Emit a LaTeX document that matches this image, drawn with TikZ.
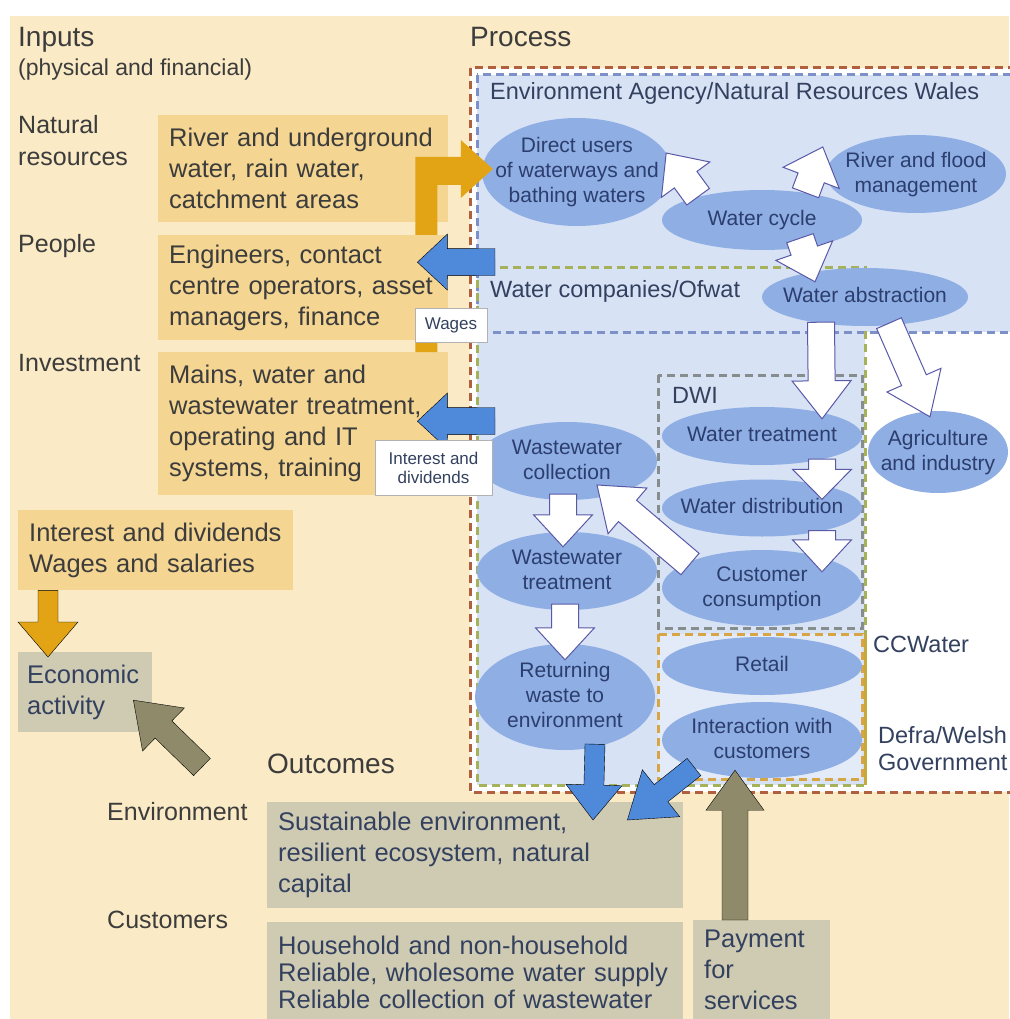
\documentclass[tikz,border=0pt]{standalone}
\usepackage{fontspec}
\setmainfont{Liberation Sans}
\usepackage{tikz}
\usetikzlibrary{positioning,shapes,calc}

\definecolor{cream}{HTML}{FAEAC5}
\definecolor{tanbox}{HTML}{F4D591}
\definecolor{goldarr}{HTML}{E2A414}
\definecolor{bluearr}{HTML}{4E89DA}
\definecolor{paleblue}{HTML}{D7E2F5}
\definecolor{ellfill}{HTML}{8FAEE4}
\definecolor{greybox}{HTML}{CFCAB2}
\definecolor{olivearr}{HTML}{8F8B6A}
\definecolor{txtgrey}{HTML}{3C3C3C}
\definecolor{txtslate}{HTML}{33415F}
\definecolor{txtnavy}{HTML}{2B3E6E}
\definecolor{reddash}{HTML}{B0603F}
\definecolor{bluedash}{HTML}{7D91C8}
\definecolor{greendash}{HTML}{A5B25A}
\definecolor{greydash}{HTML}{878C8C}
\definecolor{orangedash}{HTML}{D7A546}
\definecolor{goldline}{HTML}{C8AA3C}

\newcommand{\etext}[1]{\makebox[0pt]{\smash{\raisebox{-6pt}{\begin{tabular}[c]{@{}c@{}}#1\end{tabular}}}}}

\newcommand{\fatarrow}[6]{%
    \coordinate (fa-s) at #2;
    \coordinate (fa-e) at #3;
    \coordinate (fa-h) at ($(fa-e)!#6!(fa-s)$);
    \filldraw[#1] ($(fa-s)!#4!90:(fa-e)$) -- ($(fa-h)!#4!90:(fa-e)$) -- ($(fa-h)!#5!90:(fa-e)$) -- (fa-e) -- ($(fa-h)!#5!-90:(fa-e)$) -- ($(fa-h)!#4!-90:(fa-e)$) -- ($(fa-s)!#4!-90:(fa-e)$) -- cycle;
}

\begin{document}
\begin{tikzpicture}[x=1pt, y=-1pt,
    lbl/.style={inner sep=0pt, text=txtgrey, font=\fontsize{25}{32}\selectfont, align=left},
    heading/.style={inner sep=0pt, text=txtgrey, font=\fontsize{28}{34}\selectfont},
    regtxt/.style={inner sep=0pt, text=txtslate, font=\fontsize{23.5}{27}\selectfont, align=left},
    inbox/.style={rectangle, fill=tanbox, anchor=north west, inner xsep=11pt, inner ysep=0pt, text=txtgrey, font=\fontsize{25.5}{31}\selectfont, align=left},
    outbox/.style={inbox, fill=greybox, text=txtslate},
    ell/.style={ellipse, fill=ellfill, inner sep=0pt, text=txtnavy, font=\fontsize{21}{25}\selectfont},
    tagbox/.style={rectangle, draw=gray!60, fill=white, inner sep=0pt, text=txtslate, font=\fontsize{17}{19}\selectfont, align=center},
    whitearr/.style={fill=white, draw=gray!70!blue, line width=1pt},
    bluefill/.style={fill=bluearr},
    olivefill/.style={fill=olivearr},
    goldfill/.style={fill=goldarr},
    regline/.style={dash pattern=on 8pt off 5pt, line width=3pt}]

    \fill[white] (0,0) rectangle (1009,1019);
    \useasboundingbox (0,0) rectangle (1009,1019);
    \fill[cream] (10,16) rectangle (1009,1019);

    \draw[regline, draw=reddash, fill=white] (470,68) rectangle (1020,792);
    \fill[paleblue] (477,75) rectangle (1020,332);
    \fill[paleblue] (477,267) rectangle (865,785);
    \draw[regline, draw=bluedash] (477,75) rectangle (1020,332);
    \draw[regline, draw=greendash] (477,267) rectangle (865,785);
    \draw[regline, draw=greydash] (658,375) rectangle (862,628);
    \fill[paleblue!70!white] (658,634) rectangle (862,779);
    \draw[regline, draw=orangedash] (658,634) rectangle (862,779);
    \draw[goldline, line width=3pt] (865,634) -- (865,785);

    \node[heading, anchor=base west] (inputs) at (18,47) {Inputs};
    \node[lbl, font=\fontsize{23}{28}\selectfont, anchor=base west] (physfin) at (18,76) {(physical and financial)};
    \node[lbl, anchor=north west] (natres) at (18,115) {Natural\\resources};
    \node[lbl, anchor=base west] (peoplelbl) at (18,252) {People};
    \node[lbl, anchor=base west] (investlbl) at (18,371) {Investment};
    \node[heading, anchor=base west] (process) at (470,47) {Process};
    \node[heading, anchor=base west] (outcomes) at (267,773) {Outcomes};
    \node[lbl, anchor=base west] (envlbl) at (107,820) {Environment};
    \node[lbl, anchor=base west] (custlbl) at (107,928) {Customers};

    \node[regtxt, anchor=base west] (ealbl) at (490,100) {Environment Agency/Natural Resources Wales};
    \node[regtxt, anchor=base west] (wclbl) at (490,297) {Water companies/Ofwat};
    \node[regtxt, anchor=base west] (dwilbl) at (672,403) {DWI};
    \node[regtxt, anchor=base west] (ccwlbl) at (873,652) {CCWater};
    \node[regtxt, anchor=north west] (defralbl) at (878,726) {Defra/Welsh\\Government};

    \node[inbox, minimum width=290pt, minimum height=107pt, text width=268pt] (rivbox) at (158,115) {River and underground\\water, rain water,\\catchment areas};
    \node[inbox, minimum width=290pt, minimum height=143pt, text width=268pt] (investbox) at (158,352) {Mains, water and\\wastewater treatment,\\operating and IT\\systems, training};
    \node[inbox, minimum width=275pt, minimum height=80pt, text width=253pt] (incomebox) at (18,510) {Interest and dividends\\Wages and salaries};
    \node[outbox, minimum width=134pt, minimum height=80pt, text width=116pt, inner xsep=9pt] (econ) at (18,652) {Economic\\activity};
    \node[outbox, minimum width=416pt, minimum height=106pt, text width=394pt] (envout) at (267,802) {Sustainable environment,\\resilient ecosystem, natural\\capital};
    \node[outbox, minimum width=416pt, minimum height=100pt, text width=394pt, font=\fontsize{25.5}{27}\selectfont] (custout) at (267,922) {Household and non-household\\Reliable, wholesome water supply\\Reliable collection of wastewater};
    \node[outbox, minimum width=137pt, minimum height=100pt, text width=115pt] (payment) at (693,920) {Payment\\for\\services};

    \node[ell, minimum width=190pt, minimum height=108pt] (direct) at (577,172) {\etext{Direct users\\of waterways and\\bathing waters}};
    \node[ell, minimum width=180pt, minimum height=78pt] (rivflood) at (916,174) {\etext{River and flood\\management}};
    \node[ell, minimum width=200pt, minimum height=60pt] (wcycle) at (762,220) {\etext{Water cycle}};
    \node[ell, minimum width=206pt, minimum height=58pt] (wabs) at (865,297) {\etext{Water abstraction}};
    \node[ell, minimum width=200pt, minimum height=58pt] (wtreat) at (762,436) {\etext{Water treatment}};
    \node[ell, minimum width=140pt, minimum height=82pt] (agri) at (938,452) {\etext{Agriculture\\and industry}};
    \node[ell, minimum width=180pt, minimum height=78pt] (wcoll) at (567,461) {\etext{Wastewater\\collection}};
    \node[ell, minimum width=200pt, minimum height=57pt] (wdist) at (762,508) {\etext{Water distribution}};
    \node[ell, minimum width=180pt, minimum height=78pt] (wwtreat) at (567,571) {\etext{Wastewater\\treatment}};
    \node[ell, minimum width=200pt, minimum height=76pt] (custcons) at (762,588) {\etext{Customer\\consumption}};
    \node[ell, minimum width=200pt, minimum height=58pt] (retail) at (762,666) {\etext{Retail}};
    \node[ell, minimum width=180pt, minimum height=106pt] (returnw) at (565,697) {\etext{Returning\\waste to\\environment}};
    \node[ell, minimum width=200pt, minimum height=76pt] (interact) at (762,740) {\etext{Interaction with\\customers}};

    \fill[goldarr] ($(investbox.north east)+(-33,0)$) |- ($(direct.west)+(-21,-15)$) -- ++(0,-17) -- ($(direct.west)+(11,-3)$) -- ++(-32,29) -- ++(0,-13) -| ($(investbox.north east)+(-11,0)$) -- cycle;
    \node[inbox, minimum width=290pt, minimum height=105pt, text width=268pt] (peoplebox) at (158,235) {Engineers, contact\\centre operators, asset\\managers, finance};

    \fatarrow{whitearr}{(wcycle.160)}{(direct.12)}{14pt}{30pt}{33pt}
    \fatarrow{whitearr}{(wcycle.32)}{($(rivflood.west)+(-3,-27)$)}{14pt}{30pt}{33pt}
    \fatarrow{whitearr}{($(wcycle.south)+(38,-12)$)}{($(wabs.north)+(-50,14)$)}{14pt}{30pt}{33pt}
    \fatarrow{whitearr}{($(wabs.south)+(-44,-4)$)}{($(wtreat.north)+(60,12)$)}{13.5pt}{29.5pt}{38pt}
    \fatarrow{whitearr}{($(wabs.south)+(24,-3)$)}{($(agri.north)+(-8,6)$)}{13.5pt}{29.5pt}{40pt}
    \fatarrow{whitearr}{($(wtreat.south)+(60,-6)$)}{($(wdist.north)+(60,20)$)}{13.5pt}{29.5pt}{30pt}
    \fatarrow{whitearr}{($(wdist.south)+(60,-6)$)}{($(custcons.north)+(60,22)$)}{13.5pt}{29.5pt}{32pt}
    \fatarrow{whitearr}{($(custcons.center)+(-72,-24)$)}{($(wcoll.center)+(30,24)$)}{14pt}{30pt}{40pt}
    \fatarrow{whitearr}{($(wcoll.south)+(-4,-6)$)}{($(wwtreat.north)+(-4,15)$)}{13.5pt}{29.5pt}{32pt}
    \fatarrow{whitearr}{($(wwtreat.south)+(-2,-6)$)}{($(returnw.north)+(0,16)$)}{13.5pt}{29.5pt}{32pt}

    \coordinate (pfrom) at (495,262);
    \coordinate (ifrom) at (495,421);
    \coordinate (outcomefrom) at (202,767);
    \fatarrow{bluefill}{(pfrom)}{($(peoplebox.east)+(-31,-25.5)$)}{13.5pt}{28pt}{30pt}
    \fatarrow{bluefill}{(ifrom)}{($(investbox.east)+(-31,-2.5)$)}{13.5pt}{28pt}{30pt}
    \fatarrow{bluefill}{($(returnw.south)+(30,-6)$)}{($(envout.north west)+(326,18)$)}{10pt}{28pt}{35pt}
    \fatarrow{bluefill}{($(interact.center)+(-68,27)$)}{($(envout.north east)+(-56,18)$)}{11pt}{30pt}{43pt}
    \fatarrow{olivefill}{($(payment.north west)+(42,0)$)}{($(interact.south)+(-27,-8)$)}{13pt}{29pt}{40pt}
    \fatarrow{olivefill}{(outcomefrom)}{($(econ.east)+(-19,8)$)}{12pt}{30pt}{42pt}
    \fatarrow{goldfill}{($(incomebox.south west)+(30,0)$)}{($(econ.north west)+(30,5)$)}{10pt}{30pt}{35pt}

    \node[tagbox, minimum width=72pt, minimum height=34pt] (wagestag) at (451,325) {Wages};
    \node[tagbox, minimum width=117pt, minimum height=55pt] (inttag) at (433.5,467.5) {Interest and\\dividends};
\end{tikzpicture}
\end{document}
